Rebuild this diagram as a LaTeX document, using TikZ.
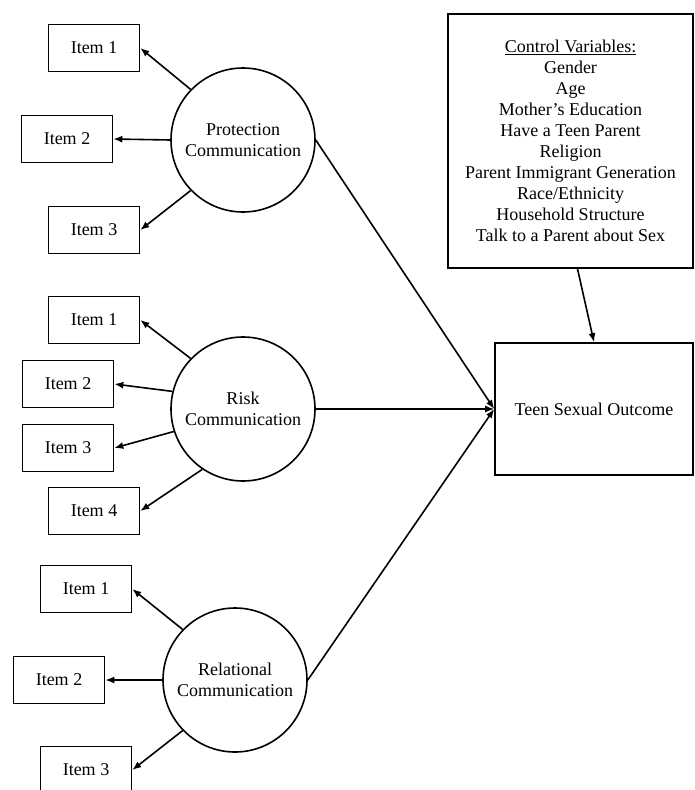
\documentclass[tikz,border=0pt]{standalone}
\usepackage{fontspec}
\setmainfont{Liberation Serif}
\usetikzlibrary{arrows.meta,calc}
\begin{document}
\begin{tikzpicture}[x=1pt,y=-1pt,
  every node/.style={font=\fontsize{18}{21}\selectfont},
  item/.style={draw,line width=1.6pt,minimum width=91pt,minimum height=47pt,inner sep=0pt},
  latent/.style={draw,circle,line width=1.6pt,minimum size=144pt,inner sep=0pt,align=center},
  bigbox/.style={draw,line width=1.6pt,inner sep=0pt,align=center},
  arr/.style={line width=1.6pt,-{Latex[length=9pt,width=7pt]}}]
\useasboundingbox (0,0) rectangle (694,790);

% latent variables
\node[latent] (P) at (243,140) {Protection\\Communication};
\node[latent] (R) at (243,409) {Risk\\Communication};
\node[latent] (L) at (235,680) {Relational\\Communication};

% items
\node[item] (PI1) at (94,48) {Item 1};
\node[item] (PI2) at (67,139) {Item 2};
\node[item] (PI3) at (94,230) {Item 3};

\node[item] (RI1) at (94,320) {Item 1};
\node[item] (RI2) at (68,384) {Item 2};
\node[item] (RI3) at (68,448) {Item 3};
\node[item] (RI4) at (94,511) {Item 4};

\node[item] (LI1) at (86,589) {Item 1};
\node[item] (LI2) at (59,680) {Item 2};
\node[item] (LI3) at (86,770) {Item 3};

% outcome and controls
\node[bigbox,minimum width=198pt,minimum height=132pt] (teen) at (594,409) {Teen Sexual Outcome};
\node[bigbox,minimum width=245pt,minimum height=254pt] (ctrl) at (570.5,141)
  {\underline{Control Variables:}\\Gender\\Age\\Mother’s Education\\Have a Teen Parent\\Religion\\Parent Immigrant Generation\\Race/Ethnicity\\Household Structure\\Talk to a Parent about Sex};

% measurement arrows
\draw[arr] (P.136) -- (PI1.east);
\draw[arr] (P.west) -- (PI2.east);
\draw[arr] (P.224) -- (PI3.east);

\draw[arr] (R.136) -- (RI1.east);
\draw[arr] (R.166) -- (RI2.east);
\draw[arr] (R.198) -- (RI3.east);
\draw[arr] (R.236) -- (RI4.east);

\draw[arr] (L.136) -- (LI1.east);
\draw[arr] (L.west) -- (LI2.east);
\draw[arr] (L.224) -- (LI3.east);

% structural arrows
\draw[arr] (P.east) -- (teen.west);
\draw[arr] (R.east) -- (teen.west);
\draw[arr] (L.east) -- (teen.west);
\draw[arr] ([xshift=7pt]ctrl.south) -- (teen.north);
\end{tikzpicture}
\end{document}
